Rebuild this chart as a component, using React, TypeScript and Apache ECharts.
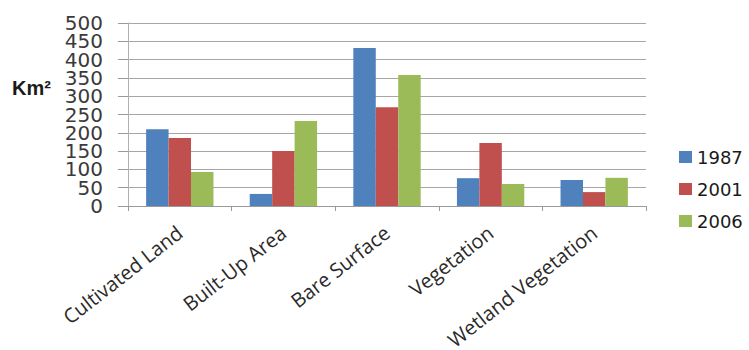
import React, { useEffect, useRef } from "react";
import * as echarts from "echarts";

const categories = ["Cultivated Land", "Built-Up Area", "Bare Surface", "Vegetation", "Wetland Vegetation"];
const seriesNames = ["1987", "2001", "2006"];
const values1987 = [210, 33, 432, 76, 71];
const values2001 = [186, 150, 270, 172, 38];
const values2006 = [93, 232, 358, 60, 77];
const colors = ["#4f81bd", "#c0504d", "#9bbb59"];
const yTicksEven = [0, 100, 200, 300, 400, 500];
const yTicksOdd = [50, 150, 250, 350, 450];
const yUnit = "Km²";

export default function App() {
  const ref = useRef<HTMLDivElement>(null);
  useEffect(() => {
    if (!ref.current) return;
    const chart = echarts.init(ref.current, null, { renderer: "svg" });
    const data = [values1987, values2001, values2006];
    const labelStyle = {
      fontFamily: "DejaVu Sans",
      fontSize: 20,
      lineHeight: 14,
      color: "#3a3a3a",
      margin: 25,
      showMinLabel: true,
      showMaxLabel: true,
      hideOverlap: false,
    };
    chart.setOption({
      animation: false,
      backgroundColor: "#ffffff",
      grid: {
        left: 128,
        right: 103,
        top: 23,
        bottom: 144,
        containLabel: false,
        outerBoundsMode: "none",
      },
      legend: {
        orient: "vertical",
        left: 674,
        top: 143,
        icon: "rect",
        itemWidth: 13,
        itemHeight: 12,
        itemGap: 14,
        textStyle: { fontFamily: "DejaVu Sans", fontSize: 18, lineHeight: 18, color: "#1a1a1a" },
        data: seriesNames,
      },
      xAxis: {
        type: "category",
        data: categories,
        axisLine: { show: true, lineStyle: { color: "#9a9a9a" } },
        axisTick: { show: true, length: 5, lineStyle: { color: "#9a9a9a" } },
        axisLabel: {
          interval: 0,
          rotate: 38,
          fontFamily: "Open Sans",
          fontSize: 20,
          color: "#2a2a2a",
          margin: 24,
        },
      },
      yAxis: [
        {
          type: "value",
          position: "left",
          min: 0,
          max: 500,
          interval: 50,
          axisLine: { show: true, lineStyle: { color: "#b0b0b0" } },
          axisTick: { show: true, length: 10, lineStyle: { color: "#9a9a9a" } },
          splitLine: { show: true, lineStyle: { color: "#a6a6a6", width: 1 } },
          axisLabel: { ...labelStyle, customValues: yTicksEven },
        },
        {
          type: "value",
          position: "left",
          offset: 0,
          min: 0,
          max: 500,
          interval: 50,
          axisLine: { show: false },
          axisTick: { show: false },
          splitLine: { show: false },
          axisLabel: { ...labelStyle, customValues: yTicksOdd },
        },
      ],
      graphic: [
        {
          type: "text",
          left: 12,
          top: 78,
          style: {
            text: yUnit,
            font: "bold 20px 'Liberation Sans'",
            fill: "#1a1a1a",
          },
        },
      ],
      series: seriesNames.map((name, i) => ({
        name,
        type: "bar",
        yAxisIndex: 0,
        data: data[i],
        barGap: "0%",
        barCategoryGap: "35%",
        itemStyle: { color: colors[i] },
      })),
    });
    return () => chart.dispose();
  }, []);
  return <div ref={ref} style={{ width: 749, height: 350, position: "absolute", left: 0, top: 0 }} />;
}
